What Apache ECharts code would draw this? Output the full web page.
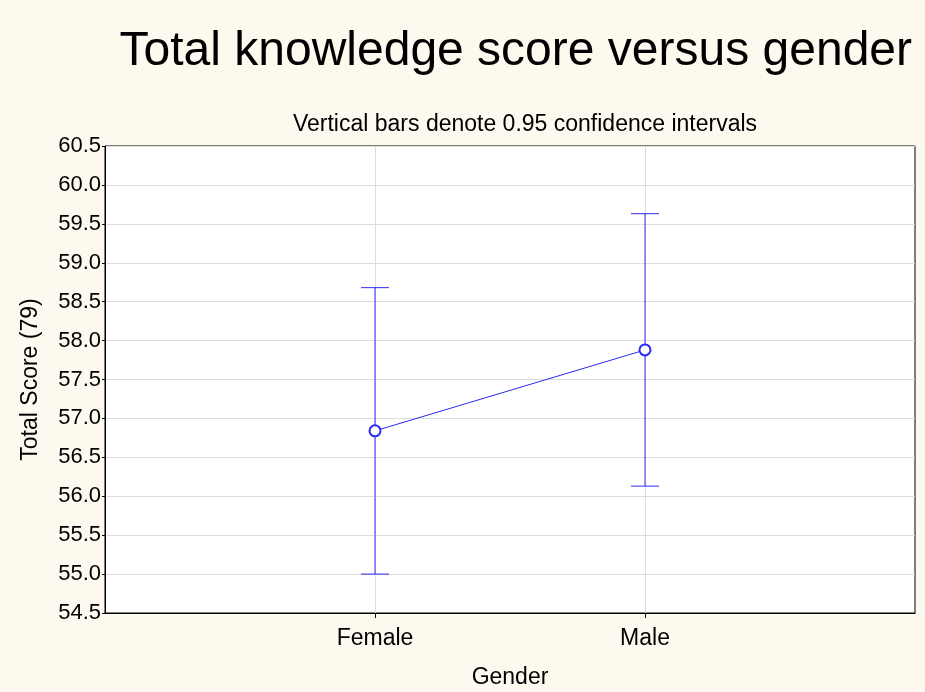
<!DOCTYPE html>
<html>
<head>
<meta charset="utf-8">
<script src="https://cdn.jsdelivr.net/npm/echarts@6/dist/echarts.min.js"></script>
<style>
  html, body { margin: 0; padding: 0; background: #fdf9ef; }
  #main { width: 925px; height: 692px; }
</style>
</head>
<body>
<div id="main"></div>
<script>
// data
var categories = ['', 'Female', 'Male', ''];
var means = [null, 56.84, 57.88, null];
var lowerCI = [null, 55.00, 56.13];
var upperCI = [null, 58.68, 59.63];

var errData = [];
for (var i = 1; i <= 2; i++) {
    errData.push([i, lowerCI[i], upperCI[i]]);
}

var blue = '#2a2af5';
var font = 'Liberation Sans, Arial, sans-serif';

var chart = echarts.init(document.getElementById('main'));
chart.setOption({
    backgroundColor: '#fdf9ef',
    animation: false,
    title: [
        {
            text: 'Total knowledge score versus gender',
            right: 8,
            top: 23,
            textStyle: { fontFamily: font, fontSize: 48, fontWeight: 'normal', color: '#000' }
        },
        {
            text: 'Vertical bars denote 0.95 confidence intervals',
            left: 520,
            textAlign: 'center',
            top: 108,
            textStyle: { fontFamily: font, fontSize: 23, fontWeight: 'normal', color: '#000' }
        }
    ],
    grid: {
        left: 105,
        right: 10,
        top: 146,
        bottom: 79,
        outerBoundsMode: 'none',
        containLabel: false,
        show: true,
        backgroundColor: '#fff',
        borderColor: '#000',
        borderWidth: 1
    },
    xAxis: {
        type: 'category',
        data: categories,
        boundaryGap: false,
        name: 'Gender',
        nameLocation: 'middle',
        nameGap: 53,
        nameTextStyle: { fontFamily: font, fontSize: 23, color: '#000' },
        axisLine: { lineStyle: { color: '#000' } },
        axisTick: {
            length: 5,
            lineStyle: { color: '#000' },
            interval: function (idx) { return idx === 1 || idx === 2; }
        },
        axisLabel: {
            fontFamily: font, fontSize: 23, color: '#000', margin: 14,
            interval: 0
        },
        splitLine: {
            show: true,
            lineStyle: { color: '#dcdcdc' },
            interval: function (idx) { return idx === 1 || idx === 2; }
        }
    },
    yAxis: {
        type: 'value',
        min: 54.5,
        max: 60.5,
        interval: 0.5,
        name: 'Total Score (79)',
        nameLocation: 'middle',
        nameGap: 63,
        nameTextStyle: { fontFamily: font, fontSize: 23, color: '#000' },
        axisLine: { show: true, lineStyle: { color: '#000' } },
        axisTick: { show: true, length: 3, lineStyle: { color: '#000' } },
        axisLabel: {
            fontFamily: font, fontSize: 22, color: '#000', margin: 4,
            formatter: function (v) { return v.toFixed(1); }
        },
        splitLine: { show: true, lineStyle: { color: '#dcdcdc' } }
    },
    series: [
        {
            type: 'custom',
            data: errData,
            z: 2,
            renderItem: function (params, api) {
                var x = api.value(0);
                var lo = api.coord([x, api.value(1)]);
                var hi = api.coord([x, api.value(2)]);
                var half = 14;
                var style = { stroke: blue, lineWidth: 1, fill: null };
                return {
                    type: 'group',
                    children: [
                        { type: 'line', shape: { x1: lo[0], y1: lo[1], x2: hi[0], y2: hi[1] }, style: style },
                        { type: 'line', shape: { x1: lo[0] - half, y1: lo[1], x2: lo[0] + half, y2: lo[1] }, style: style },
                        { type: 'line', shape: { x1: hi[0] - half, y1: hi[1], x2: hi[0] + half, y2: hi[1] }, style: style }
                    ]
                };
            }
        },
        {
            type: 'line',
            data: means,
            z: 3,
            symbol: 'emptyCircle',
            symbolSize: 11,
            connectNulls: false,
            lineStyle: { color: blue, width: 1 },
            itemStyle: { color: blue, borderColor: blue, borderWidth: 1 }
        }
    ]
});
</script>
</body>
</html>
